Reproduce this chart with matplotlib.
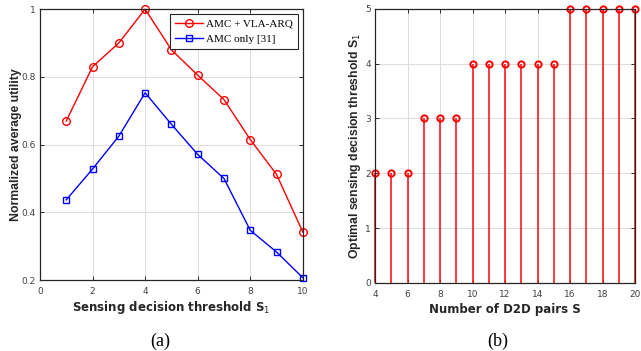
import numpy as np
import matplotlib.pyplot as plt

# left panel (a)
thresholds = [1, 2, 3, 4, 5, 6, 7, 8, 9, 10]
utility_vla = [0.67, 0.83, 0.90, 1.0, 0.88, 0.805, 0.733, 0.615, 0.512, 0.342]
utility_amc = [0.437, 0.528, 0.625, 0.753, 0.66, 0.571, 0.50, 0.347, 0.283, 0.207]

# right panel (b)
d2d_pairs = [4, 5, 6, 7, 8, 9, 10, 11, 12, 13, 14, 15, 16, 17, 18, 19, 20]
best_threshold = [2, 2, 2, 3, 3, 3, 4, 4, 4, 4, 4, 4, 5, 5, 5, 5, 5]

xlab_font = dict(family='Liberation Sans Narrow', size=8.5, weight='bold', color='#262626')
ylab_font = dict(family='Liberation Sans', size=8.8, weight='bold', color='#262626')


def style_axes(ax):
    ax.grid(True, color='#dcdcdc', linewidth=0.7)
    ax.set_axisbelow(True)
    ax.tick_params(direction='in', top=True, right=True, length=3, width=0.7,
                   colors='#262626', labelcolor='#404040', labelsize=6.5)
    ax.tick_params(axis='x', pad=5)
    ax.tick_params(axis='y', pad=3)
    for lab in ax.get_xticklabels() + ax.get_yticklabels():
        lab.set_family(['Liberation Sans Narrow', 'DejaVu Sans'])
    for s in ax.spines.values():
        s.set_color('#262626')
        s.set_linewidth(0.9)


fig = plt.figure(figsize=(6.41, 3.51), dpi=100)

ax1 = fig.add_axes([0.0624, 0.202, 0.410, 0.772])
ax1.plot(thresholds, utility_vla, color='#ff0000', marker='o', markersize=5.5,
         markerfacecolor='none', linewidth=1, label='AMC + VLA-ARQ', clip_on=False)
ax1.plot(thresholds, utility_amc, color='#0000ff', marker='s', markersize=4.5,
         markerfacecolor='none', linewidth=1, label='AMC only [31]', clip_on=False)
ax1.set_xlim(0, 10)
ax1.set_ylim(0.2, 1.0)
ax1.set_xticks(np.arange(0, 11, 2))
ax1.set_yticks([0.2, 0.4, 0.6, 0.8, 1.0])
ax1.set_yticklabels(['0.2', '0.4', '0.6', '0.8', '1'])
style_axes(ax1)
ax1.set_xlabel('Sensing decision threshold S$_1$', **xlab_font)
ax1.xaxis.set_label_coords(0.5, -0.07)
ax1.set_ylabel('Normalized average utility', **ylab_font)
ax1.yaxis.set_label_coords(-0.07, 0.5)
leg = ax1.legend(loc='upper right', prop=dict(family='Liberation Serif', size=8),
                 fancybox=False, edgecolor='#262626', framealpha=1,
                 borderpad=0.45, handlelength=2.6, handletextpad=0.2,
                 labelspacing=0.45, borderaxespad=0,
                 bbox_to_anchor=(0.98, 0.982))
leg.get_frame().set_linewidth(0.8)

ax2 = fig.add_axes([0.585, 0.194, 0.406, 0.781])
ml, sl, bl = ax2.stem(d2d_pairs, best_threshold, linefmt='-', markerfmt='o', basefmt=' ')
plt.setp(sl, color='#ff1a1a', linewidth=1.2, clip_on=False)
plt.setp(ml, color='#ff0000', markersize=4.5, markerfacecolor='none',
         markeredgewidth=1.4, clip_on=False)
ax2.set_xlim(4, 20)
ax2.set_ylim(0, 5)
ax2.set_xticks(np.arange(4, 21, 2))
ax2.set_yticks(range(6))
style_axes(ax2)
ax2.set_xlabel('Number of D2D pairs S', **xlab_font)
ax2.xaxis.set_label_coords(0.5, -0.075)
ax2.set_ylabel('Optimal sensing decision threshold S$_1$', **ylab_font)
ax2.yaxis.set_label_coords(-0.045, 0.5)

fig.text(0.25, 0.028, '(a)', family='Liberation Serif', fontsize=13, ha='center', va='center')
fig.text(0.777, 0.028, '(b)', family='Liberation Serif', fontsize=13, ha='center', va='center')

fig.savefig('out.png', dpi=100)
